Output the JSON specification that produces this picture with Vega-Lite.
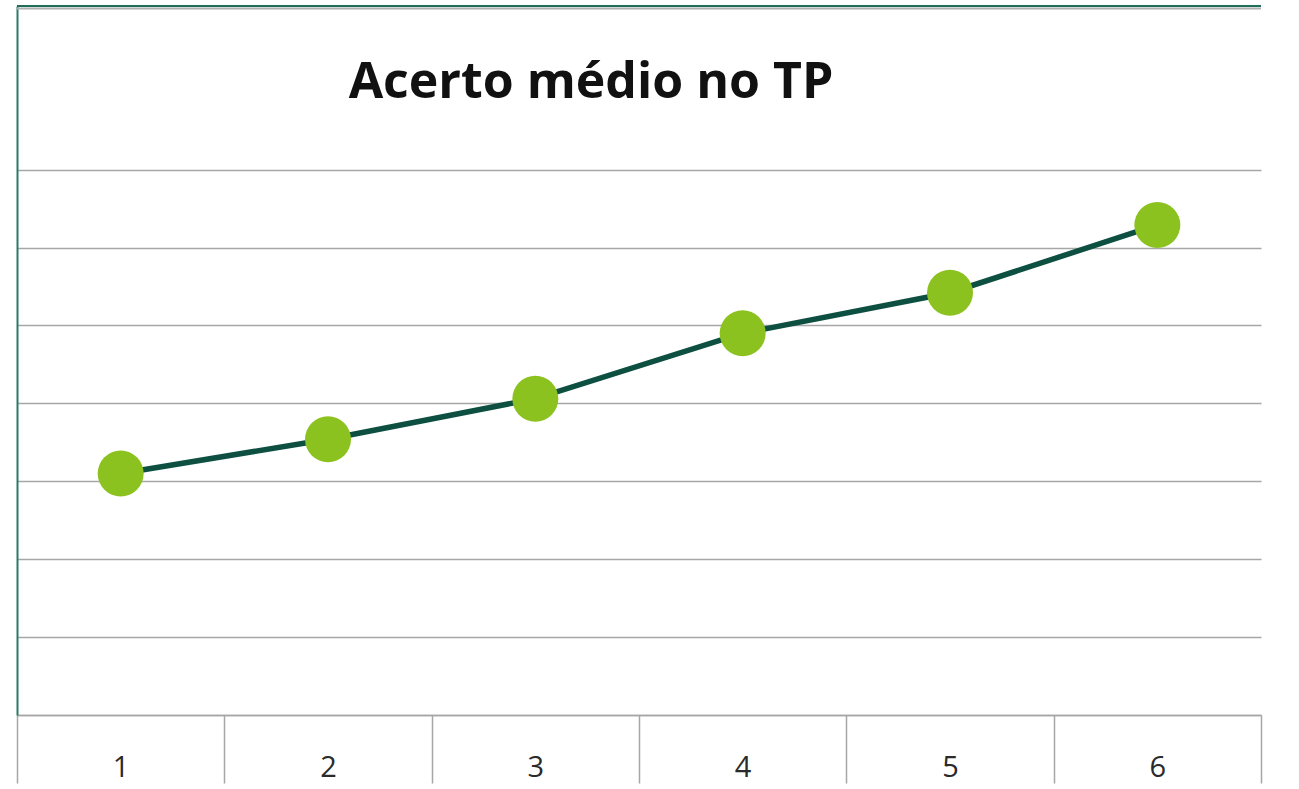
{
  "$schema": "https://vega.github.io/schema/vega-lite/v6.json",
  "width": 1244,
  "height": 709,
  "autosize": {"type": "none"},
  "padding": {"left": 17, "top": 6, "right": 38, "bottom": 74},
  "background": "white",
  "title": {
    "text": "Acerto médio no TP",
    "font": "Open Sans",
    "fontSize": 50,
    "fontWeight": "bold",
    "color": "#111111",
    "anchor": "middle",
    "dx": -48,
    "offset": -143,
    "baseline": "alphabetic"
  },
  "config": {"view": {"stroke": null}},
  "data": {
    "values": [
      {"x": "1", "y": 3.10},
      {"x": "2", "y": 3.54},
      {"x": "3", "y": 4.06},
      {"x": "4", "y": 4.90},
      {"x": "5", "y": 5.42},
      {"x": "6", "y": 6.29}
    ]
  },
  "layer": [
    {
      "mark": {"type": "line", "color": "#0d4f40", "strokeWidth": 5.5},
      "encoding": {
        "x": {
          "field": "x",
          "type": "ordinal",
          "scale": {"type": "band", "paddingInner": 0, "paddingOuter": 0},
          "axis": {
            "title": null,
            "labelAngle": 0,
            "labelFont": "Open Sans",
            "labelFontSize": 29,
            "labelColor": "#2a2a2a",
            "labelBaseline": "alphabetic",
            "labelPadding": -7,
            "tickBand": "extent",
            "tickSize": 68,
            "tickColor": "#a6a6a6",
            "tickWidth": 1.5,
            "domainColor": "#a6a6a6",
            "domainWidth": 1.5,
            "grid": false
          }
        },
        "y": {
          "field": "y",
          "type": "quantitative",
          "scale": {"domain": [0, 9.1], "nice": false, "zero": true},
          "axis": {
            "title": null,
            "values": [0, 1, 2, 3, 4, 5, 6, 7],
            "labels": false,
            "ticks": false,
            "domainColor": "#2a7a66",
            "domainWidth": 2,
            "gridColor": "#a6a6a6",
            "gridWidth": 1.5
          }
        }
      }
    },
    {
      "mark": {"type": "point", "filled": true, "shape": "circle", "size": 2116, "color": "#8cc21f", "opacity": 1},
      "encoding": {
        "x": {"field": "x", "type": "ordinal"},
        "y": {"field": "y", "type": "quantitative"}
      }
    },
    {
      "data": {"values": [{"b": 9.068}]},
      "mark": {"type": "rule", "color": "#b0b0b0", "strokeWidth": 2},
      "encoding": {"y": {"field": "b", "type": "quantitative"}}
    },
    {
      "data": {"values": [{"b": 9.1}]},
      "mark": {"type": "rule", "color": "#1f6e58", "strokeWidth": 2},
      "encoding": {"y": {"field": "b", "type": "quantitative"}}
    }
  ]
}
